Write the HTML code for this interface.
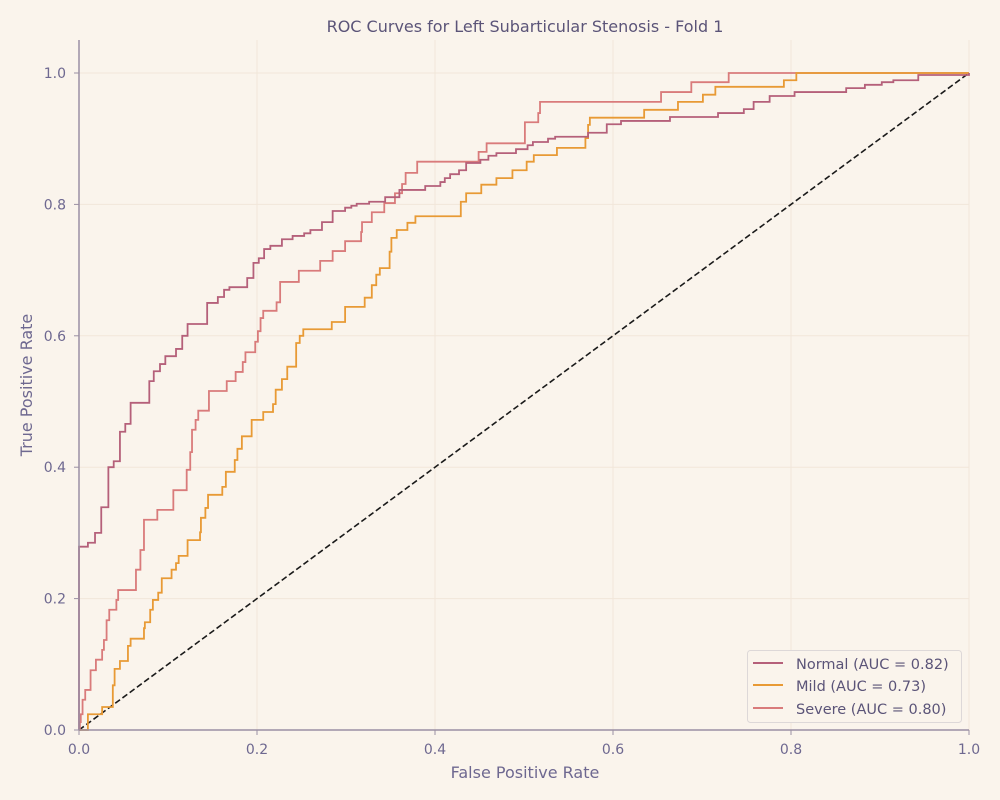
<!DOCTYPE html>
<html><head><meta charset="utf-8"><style>
body{margin:0;background:#faf4ec;}
svg{display:block;font-family:"DejaVu Sans","Liberation Sans",sans-serif;}
</style></head><body>
<svg id="chart" width="1000" height="800" xmlns="http://www.w3.org/2000/svg">
<rect width="1000" height="800" fill="#faf4ec"/>
<g id="grid"></g>
<g id="series"></g>
<g id="axes"></g>
<text x="525" y="32" text-anchor="middle" font-size="16" fill="#5b5478">ROC Curves for Left Subarticular Stenosis - Fold 1</text>
<text x="525" y="778" text-anchor="middle" font-size="16" fill="#6e6890">False Positive Rate</text>
<text transform="translate(32,385) rotate(-90)" text-anchor="middle" font-size="16" fill="#6e6890">True Positive Rate</text>
<g>
<rect x="747.5" y="650.5" width="214" height="72" rx="3" fill="#faf4ec" fill-opacity="0.9" stroke="#ddd8d8"/>
<g><line x1="753" y1="663" x2="783" y2="663" stroke="#b5607a" stroke-width="2"/><text x="796" y="669" font-size="14.5" fill="#5b5478">Normal (AUC = 0.82)</text></g>
<g><line x1="753" y1="685" x2="783" y2="685" stroke="#e89a35" stroke-width="2"/><text x="796" y="691" font-size="14.5" fill="#5b5478">Mild (AUC = 0.73)</text></g>
<g><line x1="753" y1="708" x2="783" y2="708" stroke="#d97b7b" stroke-width="2"/><text x="796" y="714" font-size="14.5" fill="#5b5478">Severe (AUC = 0.80)</text></g>
</g>
</svg>
<script>
const xTicks=[0,0.2,0.4,0.6,0.8,1.0];
const yTicks=[0,0.2,0.4,0.6,0.8,1.0];
const tickLabels=["0.0","0.2","0.4","0.6","0.8","1.0"];
const normalFpr=[0,.010,.018,.025,.033,.039,.046,.052,.058,.079,.084,.091,.097,.109,.116,.122,.144,.156,.163,.169,.189,.196,.202,.208,.215,.228,.240,.253,.260,.273,.285,.299,.306,.312,.326,.344,.360,.389,.406,.411,.417,.427,.435,.451,.460,.469,.491,.504,.510,.527,.535,.572,.593,.609,.664,.718,.747,.758,.776,.804,.862,.883,.902,.915,.943,1.0];
const normalTpr=[.279,.285,.300,.339,.400,.409,.454,.466,.498,.531,.546,.557,.569,.580,.600,.618,.650,.659,.670,.674,.688,.711,.718,.732,.737,.747,.752,.756,.761,.773,.790,.795,.798,.801,.804,.811,.822,.828,.834,.840,.846,.852,.863,.868,.874,.878,.884,.890,.895,.900,.903,.909,.922,.927,.933,.939,.945,.956,.965,.971,.977,.982,.986,.989,.997,1.0];
const mildFpr=[0,.010,.026,.038,.040,.046,.055,.058,.073,.074,.080,.083,.089,.093,.104,.109,.112,.122,.136,.137,.142,.145,.161,.165,.175,.178,.183,.194,.207,.218,.221,.228,.234,.244,.248,.252,.284,.299,.321,.329,.334,.338,.349,.351,.357,.369,.378,.429,.435,.452,.469,.487,.503,.511,.537,.569,.572,.574,.635,.673,.701,.715,.792,.806,1.0];
const mildTpr=[0,.024,.035,.068,.093,.105,.128,.139,.155,.164,.183,.198,.209,.231,.244,.254,.265,.289,.301,.323,.338,.358,.370,.393,.411,.428,.447,.472,.484,.496,.518,.534,.553,.589,.600,.610,.621,.644,.658,.677,.693,.703,.728,.749,.761,.772,.782,.804,.817,.830,.840,.852,.865,.875,.886,.901,.921,.932,.944,.956,.967,.979,.989,1.0,1.0];
const severeFpr=[0,.001,.002,.004,.007,.013,.019,.026,.028,.031,.034,.042,.044,.064,.069,.073,.088,.106,.121,.125,.127,.131,.134,.146,.166,.176,.184,.187,.198,.201,.204,.207,.222,.226,.247,.271,.285,.299,.317,.318,.329,.343,.355,.363,.367,.380,.449,.458,.501,.516,.518,.654,.688,.730,1.0];
const severeTpr=[0,.012,.024,.046,.061,.091,.107,.122,.137,.167,.183,.198,.213,.244,.274,.320,.335,.365,.396,.423,.457,.472,.486,.516,.531,.545,.560,.575,.591,.607,.627,.638,.651,.682,.699,.714,.729,.744,.758,.773,.788,.802,.817,.831,.848,.865,.880,.893,.925,.939,.956,.971,.986,1.0,1.0];

const NS="http://www.w3.org/2000/svg";
const X0=79,X1=969,Y0=730,Y1=73;
function sx(v){return X0+(X1-X0)*v;}
function sy(v){return Y0-(Y0-Y1)*v;}
function mk(tag,attrs,parent){const e=document.createElementNS(NS,tag);for(const k in attrs)e.setAttribute(k,attrs[k]);parent.appendChild(e);return e;}
const grid=document.getElementById('grid'),axes=document.getElementById('axes'),series=document.getElementById('series');
xTicks.forEach((t,i)=>{
  const g=mk('line',{x1:sx(t),x2:sx(t),y1:40,y2:Y0,stroke:'#f1e6da','stroke-width':1},grid);
  
  
  const tk=mk('line',{x1:sx(t),x2:sx(t),y1:Y0,y2:Y0+5,stroke:'#9a8fa3'},axes);
  
  
  const tl=mk('text',{x:sx(t),y:Y0+24,'text-anchor':'middle','font-size':14,fill:'#6e6890'},axes);
  tl.textContent=tickLabels[i];
  
  
});
yTicks.forEach((t,i)=>{
  const g=mk('line',{x1:X0,x2:X1,y1:sy(t),y2:sy(t),stroke:'#f1e6da','stroke-width':1},grid);
  
  
  const tk=mk('line',{x1:X0-5,x2:X0,y1:sy(t),y2:sy(t),stroke:'#9a8fa3'},axes);
  
  
  const tl=mk('text',{x:X0-13,y:sy(t)+5,'text-anchor':'end','font-size':14,fill:'#6e6890'},axes);
  tl.textContent=tickLabels[i];
  
  
});
const ax1=mk('line',{x1:X0,x2:X0,y1:40,y2:Y0,stroke:'#9a8fa3','stroke-width':1.5},axes);


const ax2=mk('line',{x1:X0,x2:X1,y1:Y0,y2:Y0,stroke:'#9a8fa3','stroke-width':1.5},axes);


const diag=mk('line',{x1:sx(0),y1:sy(0),x2:sx(1),y2:sy(1),stroke:'#1a1a1a','stroke-width':1.6,'stroke-dasharray':'6,3'},series);


function stepPath(fx,ty){
  let d='M'+sx(0)+','+sy(0);
  for(let i=0;i<fx.length;i++){d+=' L'+sx(fx[i])+','+d.split(',').pop().trim();d+=' L'+sx(fx[i])+','+sy(ty[i]);}
  return d;
}
function stepPath2(fx,ty){
  let d='M'+sx(0)+','+sy(0);let cy=sy(0);
  for(let i=0;i<fx.length;i++){d+=' L'+sx(fx[i])+','+cy;cy=sy(ty[i]);d+=' L'+sx(fx[i])+','+cy;}
  d+=' L'+sx(1)+','+sy(1);
  return d;
}
const sevP=mk('path',{d:stepPath2(severeFpr,severeTpr),fill:'none',stroke:'#d97b7b','stroke-width':1.8},series);


const mildP=mk('path',{d:stepPath2(mildFpr,mildTpr),fill:'none',stroke:'#e89a35','stroke-width':1.8},series);


const normP=mk('path',{d:stepPath2(normalFpr,normalTpr),fill:'none',stroke:'#b5607a','stroke-width':1.8},series);


</script>
</body></html>
